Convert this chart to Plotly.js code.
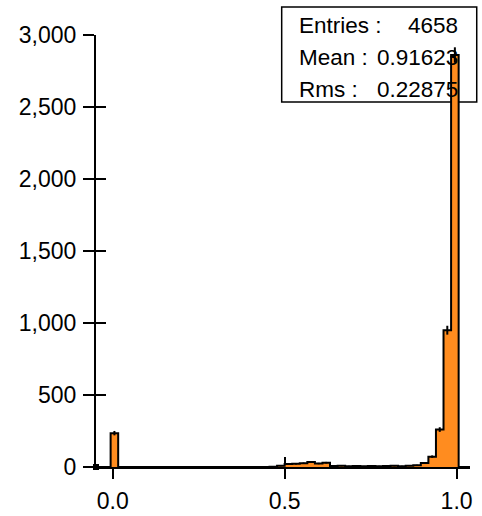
<!DOCTYPE html>
<html>
<head>
<meta charset="utf-8">
<script src="https://cdn.plot.ly/plotly-3.0.1.min.js"></script>
<style>
  html, body { margin: 0; padding: 0; background: #fff; }
  #chart { width: 482px; height: 516px; }
</style>
</head>
<body>
<div id="chart"></div>
<script>
// Histogram definition: 50 equal bins starting at binStart
const binStart = -0.05;
const binWidth = 0.022;
const counts = [
  0, 0, 235, 0, 0, 0, 0, 0, 0, 0,
  0, 0, 0, 0, 0, 0, 0, 0, 0, 0,
  0, 0, 0, 2, 8, 20, 22, 26, 34, 24,
  30, 7, 8, 6, 7, 5, 7, 6, 7, 8,
  6, 9, 12, 28, 72, 260, 950, 2861, 0, 0
];

// Statistics box
const statLabels = ['Entries :', 'Mean :', 'Rms :'];
const statValues = ['4658', '0.91623', '0.22875'];

// Axis ticks
const xTicks = [0, 0.5, 1.0];
const yTicks = [0, 500, 1000, 1500, 2000, 2500, 3000];

const xRange = [-0.0485, 1.039];
const yRange = [0, 3000];

const fontFamily = 'Liberation Sans, Arial, Helvetica, sans-serif';
const orange = '#ff8c1f';

// bin geometry derived from the definition
const centers = counts.map((_, k) => binStart + (k + 0.5) * binWidth);
const leftEdges = counts.map((_, k) => binStart + k * binWidth);
const stepX = leftEdges.concat([binStart + counts.length * binWidth]);
const stepY = counts.concat([counts[counts.length - 1]]);
const errors = counts.map(c => Math.sqrt(c));

const traces = [
  { // filled bins
    type: 'bar', x: centers, y: counts, width: binWidth,
    marker: { color: orange, line: { width: 0 } },
    hoverinfo: 'skip', showlegend: false
  },
  { // outline of the histogram
    type: 'scatter', mode: 'lines', x: stepX, y: stepY,
    line: { shape: 'hv', color: '#000', width: 2 },
    hoverinfo: 'skip', showlegend: false, cliponaxis: false
  },
  { // statistical errors
    type: 'scatter', mode: 'markers', x: centers, y: counts,
    marker: { size: 1, color: 'rgba(0,0,0,0)' },
    error_y: { type: 'data', array: errors, visible: true, width: 0, thickness: 2, color: '#000' },
    hoverinfo: 'skip', showlegend: false
  },
  { // carrier for the inner tick axes
    type: 'scatter', mode: 'none', x: [xRange[0]], y: [0],
    xaxis: 'x2', yaxis: 'y2', hoverinfo: 'skip', showlegend: false
  }
];

const tickFont = { family: fontFamily, size: 23, color: '#000' };

const shapes = [
  { // stats box
    type: 'rect', xref: 'paper', yref: 'paper',
    x0: 0.4965, x1: 1.018, y0: 0.8449, y1: 1.0648,
    line: { color: '#000', width: 1.5 }, fillcolor: '#fff', layer: 'below'
  },
  { // baseline stub left of the vertical axis
    type: 'line', xref: 'paper', yref: 'y',
    x0: -0.03, x1: 0, y0: 0, y1: 0,
    line: { color: '#000', width: 2 }
  },
  { // corner marker
    type: 'rect', xref: 'paper', yref: 'paper',
    xsizemode: 'pixel', ysizemode: 'pixel', xanchor: 0, yanchor: 0,
    x0: -3, x1: 3, y0: -3, y1: 3,
    fillcolor: '#000', line: { width: 0 }
  }
];

const annFont = { family: fontFamily, size: 22.5, color: '#000' };
const rowY = [1.023, 0.9468, 0.8727];
const annotations = [];
statLabels.forEach((t, i) => {
  annotations.push({ xref: 'paper', yref: 'paper', x: 0.5374, y: rowY[i], text: t,
    showarrow: false, xanchor: 'left', yanchor: 'middle', font: annFont });
  annotations.push({ xref: 'paper', yref: 'paper', x: 0.972, y: rowY[i], text: statValues[i],
    showarrow: false, xanchor: 'right', yanchor: 'middle', font: annFont });
});

const layout = {
  width: 482, height: 516,
  margin: { l: 96, r: 12, t: 35, b: 49, pad: 0 },
  paper_bgcolor: '#fff', plot_bgcolor: '#fff',
  showlegend: false, bargap: 0,
  xaxis: {
    range: xRange, showgrid: false, zeroline: false,
    showline: true, linecolor: '#000', linewidth: 2,
    ticks: 'outside', ticklen: 10, tickwidth: 2, tickcolor: '#000',
    tickvals: xTicks, tickformat: '.1f', tickfont: tickFont, ticklabelstandoff: 2
  },
  yaxis: {
    range: yRange, showgrid: false, zeroline: false,
    showline: true, linecolor: '#000', linewidth: 2,
    ticks: 'outside', ticklen: 11, tickwidth: 2, tickcolor: '#000',
    tickvals: yTicks, tickformat: ',d', tickfont: tickFont, ticklabelstandoff: 2
  },
  xaxis2: {
    overlaying: 'x', anchor: 'y2', range: xRange, showgrid: false, zeroline: false,
    showline: false, ticks: 'inside', ticklen: 10, tickwidth: 2, tickcolor: '#000',
    tickvals: xTicks, showticklabels: false, layer: 'below traces'
  },
  yaxis2: {
    overlaying: 'y', anchor: 'x2', range: yRange, showgrid: false, zeroline: false,
    showline: false, ticks: 'inside', ticklen: 10, tickwidth: 2, tickcolor: '#000',
    tickvals: yTicks, showticklabels: false, layer: 'below traces'
  },
  shapes: shapes,
  annotations: annotations
};

Plotly.newPlot('chart', traces, layout, { staticPlot: true, displayModeBar: false });
</script>
</body>
</html>
